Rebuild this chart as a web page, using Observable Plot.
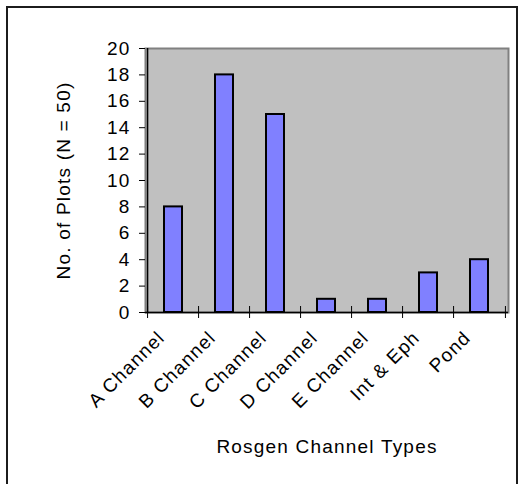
<!DOCTYPE html>
<html><head><meta charset="utf-8">
<script src="https://cdn.jsdelivr.net/npm/d3@7"></script>
<script src="https://cdn.jsdelivr.net/npm/@observablehq/plot@0.6"></script>
<style>
html,body{margin:0;padding:0;background:#fff;overflow:hidden;}
#wrap{position:relative;width:524px;height:484px;}
#border{position:absolute;left:6px;top:6px;width:508px;height:500px;border:2px solid #1c1c1c;}
#chart{position:absolute;left:0;top:0;}
</style></head><body>
<div id="wrap"><div id="border"></div><div id="chart"></div></div>
<script>
const categories = ["A Channel", "B Channel", "C Channel", "D Channel", "E Channel", "Int & Eph", "Pond"];
const plotCounts = [8, 18, 15, 1, 1, 3, 4];
const yTicks = [0, 2, 4, 6, 8, 10, 12, 14, 16, 18, 20];
const xTitle = "Rosgen Channel Types";
const yTitle = "No. of Plots (N = 50)";

const data = categories.map((c, i) => ({category: c, count: plotCounts[i]}));
const W = 524, H = 484, mL = 145, mR = 16, mT = 48, mB = 172;
const step = (W - mL - mR) / categories.length;
const FS = 19;

const chart = Plot.plot({
  width: W, height: H,
  marginLeft: mL, marginRight: mR, marginTop: mT, marginBottom: mB,
  style: {fontFamily: "'Liberation Sans', Arial, sans-serif", fontSize: "19px", letterSpacing: "1.2px", color: "#000", background: "transparent", overflow: "visible"},
  x: {domain: categories, paddingInner: 0.64, paddingOuter: 0.32},
  y: {domain: [0, 20]},
  marks: [
    Plot.frame({fill: "#c0c0c0", stroke: "#808080", strokeWidth: 2}),
    Plot.barY(data, {x: "category", y: "count", fill: "#8080ff", stroke: "#000", strokeWidth: 2}),
    Plot.ruleX(categories, {x: d => d, y1: 0, y2: 0, insetTop: -6, insetBottom: -6, dx: -step / 2, stroke: "#000", strokeWidth: 1}),
    Plot.ruleX(categories.slice(-1), {x: d => d, y1: 0, y2: 0, insetTop: -6, insetBottom: -6, dx: step / 2, stroke: "#000", strokeWidth: 1}),
    Plot.ruleX(categories.slice(0, 1), {x: d => d, dx: -step / 2, stroke: "#000", strokeWidth: 1.5}),
    Plot.ruleY([0], {stroke: "#000", strokeWidth: 1.5}),
    Plot.axisY(yTicks, {tickSize: 6, tickPadding: 9, fontSize: FS, label: null}),
    Plot.axisX({tickSize: 0, tickRotate: -45, tickPadding: 22, dx: -12, fontSize: FS, label: null}),
    Plot.text([yTitle], {frameAnchor: "left", rotate: -90, textAnchor: "middle", lineAnchor: "top", dx: -89, fontSize: FS}),
    Plot.text([xTitle], {frameAnchor: "bottom", textAnchor: "middle", lineAnchor: "top", dy: 127, fontSize: FS})
  ]
});
document.getElementById("chart").appendChild(chart);
</script>
</body></html>
